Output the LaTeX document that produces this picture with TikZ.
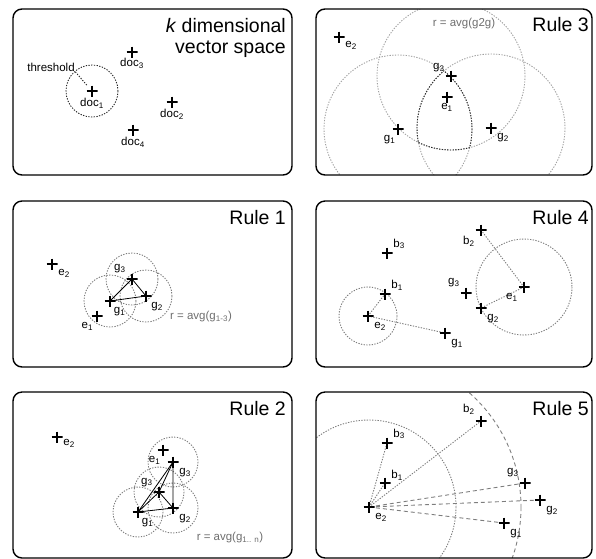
\documentclass[tikz,border=0pt]{standalone}
\usepackage{fontspec}
\setmainfont{Liberation Sans}
\usetikzlibrary{positioning,calc,backgrounds}
\definecolor{circgray}{RGB}{125,125,125}
\definecolor{palegray}{RGB}{160,160,160}
\definecolor{txtgray}{RGB}{110,110,110}
\definecolor{lensgray}{RGB}{40,40,40}

\begin{document}
\begin{tikzpicture}[x=1pt,y=-1pt,
  crs/.style={inner sep=0pt,minimum size=11pt,label distance=-1.5pt,
    path picture={\draw[line width=2pt] (path picture bounding box.north) -- (path picture bounding box.south)
      (path picture bounding box.west) -- (path picture bounding box.east);}},
  lbl/.style={font=\fontsize{11.5}{13}\selectfont,inner sep=0.5pt},
  ttl/.style={font=\fontsize{19.5}{21.5}\selectfont,anchor=north east,inner sep=0pt,align=right},
  panel/.style={draw,line width=1.4pt,rounded corners=9pt},
  dotc/.style={draw=circgray,line width=0.9pt,dash pattern=on 1.3pt off 1.4pt},
  dotp/.style={draw=palegray,line width=0.9pt,dash pattern=on 1.3pt off 1.4pt},
  dotk/.style={draw=lensgray,line width=0.9pt,dash pattern=on 1.3pt off 1.4pt},
  dsh/.style={draw=circgray,line width=0.9pt,dash pattern=on 4pt off 3pt},
  tri/.style={draw,line width=0.8pt}]
\useasboundingbox (0,0) rectangle (596,558);

% vector space
\draw[panel] (13,9) rectangle (292,175);
\node[ttl] (t0) at (286,18) {\textit{k} dimensional\\vector space};
\node[crs,label={[lbl,label distance=1pt]below:doc\textsubscript{1}}] (d1) at (92,91) {};
\node[crs,label={[lbl]below:doc\textsubscript{3}}] (d3) at (132,52) {};
\node[crs,label={[lbl,label distance=1pt]below:doc\textsubscript{2}}] (d2) at (172,102) {};
\node[crs,label={[lbl,label distance=1pt]below:doc\textsubscript{4}}] (d4) at (133,130) {};
\node[lbl] (thr) at (51,67) {threshold};
\begin{scope}[on background layer]
\draw[dotk] (d1.center) circle (26);
\draw[dotk] (thr.south east) -- (d1);
\end{scope}

% rule 3
\draw[panel] (316,9) rectangle (592,175);
\node[ttl] (t3) at (589,17) {Rule 3};
\node[lbl,text=txtgray] (r3) at (464,24) {r = avg(g2g)};
\node[crs,label={[lbl]-35:e\textsubscript{2}}] (e2c) at (339,37) {};
\node[crs,label={[lbl]150:g\textsubscript{3}}] (g3c) at (451,76) {};
\node[crs,label={[lbl]below:e\textsubscript{1}}] (e1c) at (447,97) {};
\node[crs,label={[lbl]-110:g\textsubscript{1}}] (g1c) at (398,129) {};
\node[crs,label={[lbl]-40:g\textsubscript{2}}] (g2c) at (491,128) {};
\begin{scope}[on background layer]
\begin{scope}
\clip[rounded corners=9pt] (316,9) rectangle (592,175);
\foreach \g in {g1c,g2c,g3c} \draw[dotp] (\g.center) circle (74);
\begin{scope}
\clip (g1c.center) circle (74); \clip (g2c.center) circle (74);
\draw[dotk] (g3c.center) circle (74);
\end{scope}
\begin{scope}
\clip (g1c.center) circle (74); \clip (g3c.center) circle (74);
\draw[dotk] (g2c.center) circle (74);
\end{scope}
\begin{scope}
\clip (g2c.center) circle (74); \clip (g3c.center) circle (74);
\draw[dotk] (g1c.center) circle (74);
\end{scope}
\end{scope}
\end{scope}

% rule 1
\draw[panel] (13,201) rectangle (292,367);
\node[ttl] (t1) at (286,210) {Rule 1};
\node[crs,label={[lbl]-40:e\textsubscript{2}}] (e2a) at (52,264) {};
\node[crs,label={[lbl]-120:e\textsubscript{1}}] (e1a) at (97,316) {};
\node[crs,label={[lbl]-60:g\textsubscript{1}}] (g1a) at (110,301) {};
\node[crs,label={[lbl]-50:g\textsubscript{2}}] (g2a) at (146,296) {};
\node[crs,label={[lbl]135:g\textsubscript{3}}] (g3a) at (132,279) {};
\node[lbl,text=txtgray] (r1) at (201,317) {r = avg(g\textsubscript{1-3})};
\begin{scope}[on background layer]
\foreach \g in {g1a,g2a,g3a} \draw[dotc] (\g.center) circle (26);
\draw[tri] (g1a.center) -- (g2a.center) -- (g3a.center) -- cycle;
\end{scope}

% rule 4
\draw[panel] (316,201) rectangle (592,367);
\node[ttl] (t4) at (589,210) {Rule 4};
\node[crs,label={[lbl]30:b\textsubscript{3}}] (b3d) at (387,253) {};
\node[crs,label={[lbl]30:b\textsubscript{1}}] (b1d) at (385,294) {};
\node[crs,label={[lbl]-45:e\textsubscript{2}}] (e2d) at (368,316) {};
\node[crs,label={[lbl]-45:g\textsubscript{1}}] (g1d) at (445,333) {};
\node[crs,label={[lbl]135:g\textsubscript{3}}] (g3d) at (466,293) {};
\node[crs,label={[lbl]-45:g\textsubscript{2}}] (g2d) at (481,308) {};
\node[crs,label={[lbl]-135:e\textsubscript{1}}] (e1d) at (524,287) {};
\node[crs,label={[lbl]-135:b\textsubscript{2}}] (b2d) at (481,230) {};
\begin{scope}[on background layer]
\draw[dotc] (e2d.center) circle (29);
\draw[dotc] (e1d.center) circle (48);
\draw[dotc] (e2d.center) -- (b1d.center);
\draw[dotc] (e2d.center) -- (g1d.center);
\draw[dotc] (e1d.center) -- (b2d.center);
\draw[dotc] (e1d.center) -- (g2d.center);
\end{scope}

% rule 2
\draw[panel] (13,392) rectangle (292,558);
\node[ttl] (t2) at (286,401) {Rule 2};
\node[crs,label={[lbl]-20:e\textsubscript{2}}] (e2b) at (57,437) {};
\node[crs,label={[lbl]-110:e\textsubscript{1}}] (e1b) at (163,450) {};
\node[crs,label={[lbl]-45:g\textsubscript{3}}] (g3b) at (173,462) {};
\node[crs,label={[lbl]140:g\textsubscript{3}}] (g3m) at (159,492) {};
\node[crs,label={[lbl]-60:g\textsubscript{1}}] (g1b) at (138,512) {};
\node[crs,label={[lbl]-45:g\textsubscript{2}}] (g2b) at (173,508) {};
\node[lbl,text=txtgray] (r2) at (230,538) {r = avg(g\textsubscript{1.. n})};
\begin{scope}[on background layer]
\foreach \g in {g3b,g3m,g1b,g2b} \draw[dotc] (\g.center) circle (25);
\draw[tri] (g1b.center) -- (g2b.center) -- (g3b.center) -- cycle;
\draw[tri] (g1b.center) -- (g3m.center) -- (g3b.center);
\draw[tri] (g3m.center) -- (g2b.center);
\end{scope}

% rule 5
\draw[panel] (316,392) rectangle (592,558);
\node[ttl] (t5) at (589,401) {Rule 5};
\node[crs,label={[lbl]-45:e\textsubscript{2}}] (e2e) at (369,507) {};
\node[crs,label={[lbl]30:b\textsubscript{3}}] (b3e) at (387,443) {};
\node[crs,label={[lbl]20:b\textsubscript{1}}] (b1e) at (385,483) {};
\node[crs,label={[lbl]135:b\textsubscript{2}}] (b2e) at (481,421) {};
\node[crs,label={[lbl]135:g\textsubscript{3}}] (g3e) at (525,483) {};
\node[crs,label={[lbl]-45:g\textsubscript{2}}] (g2e) at (540,500) {};
\node[crs,label={[lbl]-45:g\textsubscript{1}}] (g1e) at (504,523) {};
\begin{scope}[on background layer]
\begin{scope}
\clip[rounded corners=9pt] (316,392) rectangle (592,558);
\draw[dotc] (e2e.center) circle (87);
\draw[dsh] (e2e.center) circle (152);
\foreach \b in {b3e,b1e,b2e} \draw[dotc] (e2e.center) -- (\b.center);
\foreach \g in {g3e,g2e,g1e} \draw[dsh] (e2e.center) -- (\g.center);
\end{scope}
\end{scope}
\end{tikzpicture}
\end{document}
